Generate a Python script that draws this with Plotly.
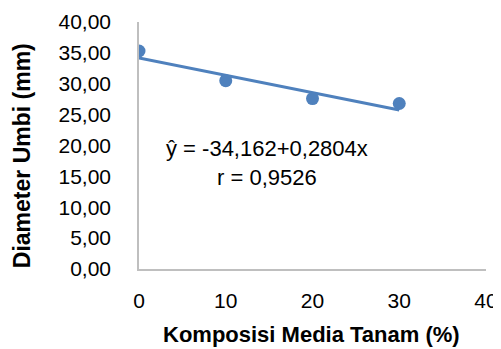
import plotly.graph_objects as go

# Data
komposisi = [0, 10, 20, 30]
diameter = [35.3, 30.5, 27.6, 26.8]
trend_intercept = 34.162
trend_slope = -0.2804
trend_x = [0, 30]
trend_y = [trend_intercept + trend_slope * x for x in trend_x]

x_ticks = [0, 10, 20, 30, 40]
y_ticks = [0, 5, 10, 15, 20, 25, 30, 35, 40]

blue = "#4F81BD"
font_family = "Liberation Sans, Arial, sans-serif"

fig = go.Figure()
fig.add_trace(go.Scatter(x=trend_x, y=trend_y, mode="lines",
                         line=dict(color=blue, width=3), showlegend=False,
                         hoverinfo="skip"))
fig.add_trace(go.Scatter(x=komposisi, y=diameter, mode="markers",
                         marker=dict(color=blue, size=13), showlegend=False))

fig.add_annotation(x=14.75, y=17.2, xref="x", yref="y",
                   text="ŷ = -34,162+0,2804x<br>r = 0,9526",
                   showarrow=False, align="center",
                   font=dict(family=font_family, size=22, color="black"))

# Axis titles
fig.add_annotation(x=0.496, y=-0.267, xref="paper", yref="paper",
                   text="<b>Komposisi Media Tanam (%)</b>", showarrow=False,
                   xanchor="center", yanchor="middle",
                   font=dict(family=font_family, size=22, color="black"))
fig.add_annotation(x=-0.337, y=0.457, xref="paper", yref="paper",
                   text="<b>Diameter Umbi (mm)</b>", showarrow=False, textangle=-90,
                   xanchor="center", yanchor="middle",
                   font=dict(family=font_family, size=23, color="black"))

# page body has an 8px margin: shrink the figure and shift margins to compensate
fig.update_layout(
    width=493, height=341,
    margin=dict(l=131, r=15, t=14, b=80, autoexpand=False),
    paper_bgcolor="white", plot_bgcolor="white",
    separators=",.",
    font=dict(family=font_family, size=21, color="black"),
    xaxis=dict(range=[0, 40], tickvals=x_ticks, showgrid=False, zeroline=False,
               showline=True, linecolor="#BFBFBF", linewidth=1.5,
               ticks="", ticklabelstandoff=12),
    yaxis=dict(range=[0, 40], tickvals=y_ticks, tickformat=".2f", showgrid=False,
               zeroline=False, showline=True, linecolor="#BFBFBF", linewidth=1.5,
               ticks="", ticklabelstandoff=22),
)

fig.write_html("out.html")
